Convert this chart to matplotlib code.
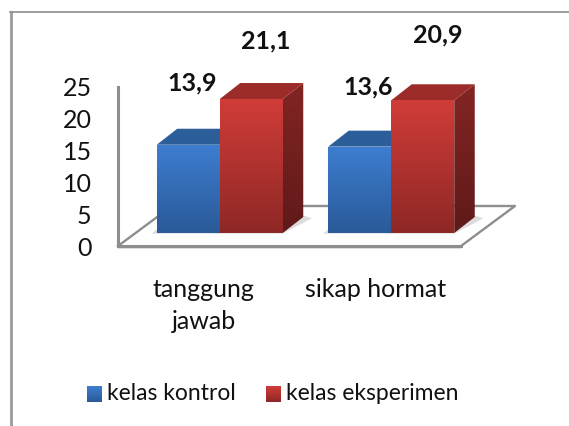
import numpy as np
from matplotlib import pyplot as plt
from matplotlib.colors import LinearSegmentedColormap
from matplotlib.patches import Polygon, Rectangle

categories = ['tanggung\njawab', 'sikap hormat']
series_names = ['kelas kontrol', 'kelas eksperimen']
kontrol = [13.9, 13.6]
eksperimen = [21.1, 20.9]
value_labels = [['13,9', '13,6'], ['21,1', '20,9']]
y_ticks = [0, 5, 10, 15, 20, 25]

W, H = 569, 426
plt.rcParams['font.family'] = ['Lato', 'DejaVu Sans']
GRAY = '#8e8e8e'
TEXT = '#111111'

# colours: front top/bottom, side top/bottom, top face
front = [('#3d7dd0', '#2a5a98'), ('#d03c38', '#8e2826')]
side = [('#2a5688', '#1f4068'), ('#822523', '#601a19')]
top_face = ['#2c5f9a', '#9c2c2a']

fig = plt.figure(figsize=(W / 100, H / 100), dpi=100)

# outer frame, only top and left show up in the reference
fig.add_artist(plt.Line2D([10.5 / W, 10.5 / W], [0, 1 - 12 / H], color='#9a9a9a', lw=2))
fig.add_artist(plt.Line2D([10 / W, 1], [1 - 12 / H, 1 - 12 / H], color=GRAY, lw=1.2))

# axes box: left spine is the value axis, bottom spine the front floor edge
ax = fig.add_axes([118 / W, 1 - 246 / H, 343 / W, 159 / H])
ax.set_xlim(0, 2)
ax.set_ylim(0, 25)
ax.patch.set_alpha(0)
for s in ['top', 'right']:
    ax.spines[s].set_visible(False)
for s in ['left', 'bottom']:
    ax.spines[s].set_color(GRAY)
    ax.spines[s].set_linewidth(2.2)
ax.set_xticks([0.5, 1.5], categories)
ax.set_yticks(y_ticks)
ax.tick_params(length=0, labelsize=18, colors=TEXT)
ax.tick_params(axis='x', pad=23)
ax.tick_params(axis='y', pad=19)
for t in ax.get_xticklabels():
    t.set_linespacing(1.5)

# 3d depth of floor and bars, in data units
floor_dx, floor_dy = 54 / 171.5, 40 / 6.36
base_dx, base_dy = 16 / 171.5, 13 / 6.36
bar_w = 63 / 171.5
dx, dy = 20.5 / 171.5, 16 / 6.36
y_scale = 6.35 / 6.36


def gradient(poly, c1, c2, zorder):
    cmap = LinearSegmentedColormap.from_list('g', [c1, c2])
    xs, ys = poly[:, 0], poly[:, 1]
    im = ax.imshow(np.linspace(0, 1, 64).reshape(-1, 1), cmap=cmap, aspect='auto',
                   extent=[xs.min(), xs.max(), ys.min(), ys.max()], zorder=zorder)
    clip = Polygon(poly, transform=ax.transData, fc='none', ec='none', clip_on=False)
    ax.add_patch(clip)
    im.set_clip_box(fig.bbox)
    im.set_clip_path(clip)


def bar3d(x0, value, s, zorder):
    y0 = base_dy
    y1 = base_dy + value * y_scale
    x1 = x0 + bar_w
    # shadow on the floor
    ax.add_patch(Polygon([[x0 - 0.03, y0 - 0.1], [x1, y0 - 0.1], [x1 + dx + 0.05, y0 + dy - 0.2],
                          [x1 + dx - 0.02, y0 + dy + 0.4], [x0, y0 + 0.6]],
                         fc='#dcdcdc', ec='none', zorder=2, clip_on=False))
    gradient(np.array([[x1, y0], [x1 + dx, y0 + dy], [x1 + dx, y1 + dy], [x1, y1]]),
             side[s][0], side[s][1], zorder)
    ax.add_patch(Polygon([[x0, y1], [x1, y1], [x1 + dx, y1 + dy], [x0 + dx, y1 + dy]],
                         fc=top_face[s], ec='none', zorder=zorder, clip_on=False))
    gradient(np.array([[x0, y0], [x1, y0], [x1, y1], [x0, y1]]), front[s][0], front[s][1], zorder + 0.5)


# floor
ax.plot([2, 2 + floor_dx, floor_dx], [0, floor_dy, floor_dy], color=GRAY, lw=1.7, clip_on=False, zorder=1)
ax.plot([0, floor_dx], [0, floor_dy], color=GRAY, lw=1.7, clip_on=False, zorder=1)
ax.add_patch(Rectangle((0, -0.45), 2, 0.3, fc='#e2e2e2', ec='none', clip_on=False, zorder=0))

offsets = [[(4, 62), (8, 60)], [(14, 58), (15, 65)]]
for i, vals in enumerate([kontrol, eksperimen]):
    for j, v in enumerate(vals):
        x0 = j + 0.5 + base_dx - bar_w + i * bar_w
        bar3d(x0, v, i, 3 + i + j * 2)
        ax.annotate(value_labels[i][j], (x0 + bar_w / 2, base_dy + v * y_scale),
                    xytext=offsets[i][j], textcoords='offset pixels', ha='center', va='center',
                    fontsize=18, fontweight='bold', color=TEXT, annotation_clip=False)
ax.set_xlim(0, 2)
ax.set_ylim(0, 25)

# legend
swatches = [(87, 107), (266, 286)]
for i, name in enumerate(series_names):
    sx, tx = swatches[i]
    lax = fig.add_axes([sx / W, 1 - 402 / H, 15 / W, 16 / H])
    lax.imshow(np.linspace(0, 1, 32).reshape(-1, 1), aspect='auto',
               cmap=LinearSegmentedColormap.from_list('l', front[i]))
    lax.axis('off')
    fig.text(tx / W, 1 - 394 / H, name, fontsize=16.5, color=TEXT, va='center', ha='left')

fig.savefig('out.png', dpi=100)
